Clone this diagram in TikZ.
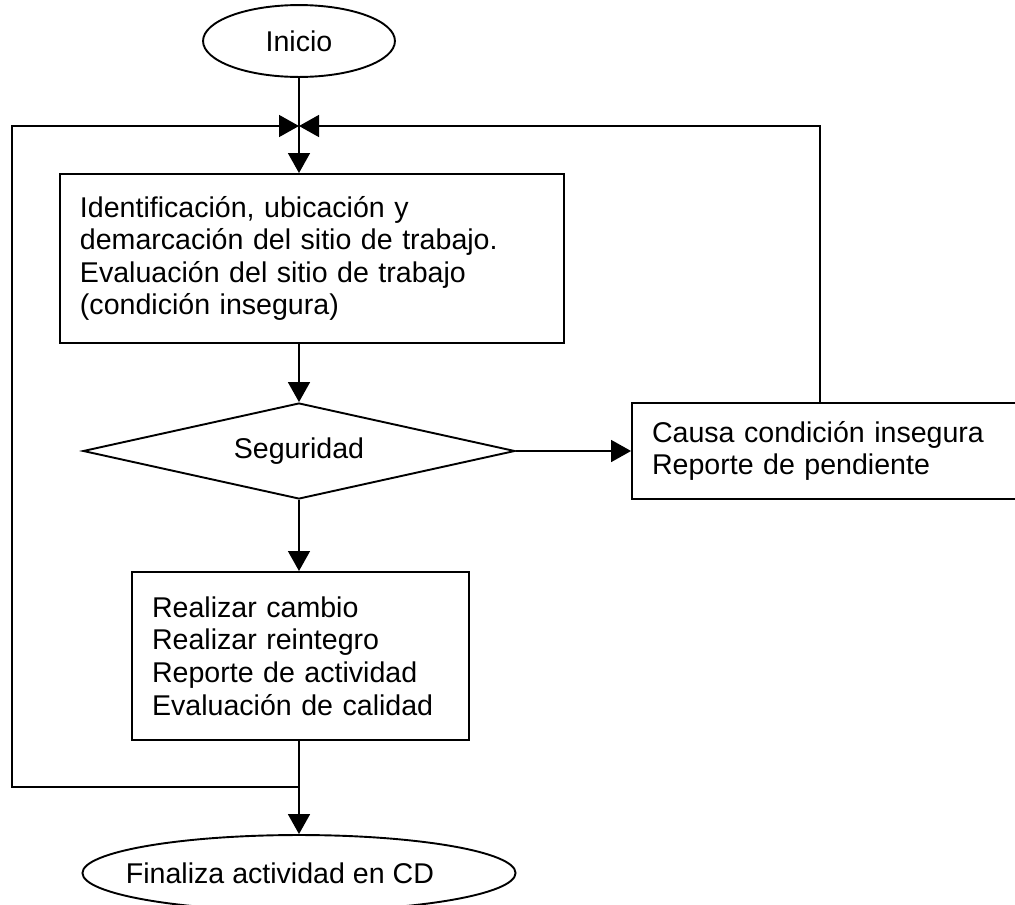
\documentclass[tikz,border=0pt]{standalone}
\usepackage{fontspec}
\setmainfont{Liberation Sans}
\usetikzlibrary{positioning, shapes.geometric, arrows.meta}

\begin{document}
\begin{tikzpicture}[x=0.42pt, y=-0.42pt, line width=0.8pt,
    font=\fontsize{12}{13.7}\selectfont,
    flecha/.style={-{Triangle[length=8.4pt, width=9.2pt]}},
    termbox/.style={draw, ellipse, inner sep=0pt},
    procbox/.style={draw, rectangle, align=left, inner xsep=8.4pt, inner ysep=0pt},
    decbox/.style={draw, diamond, shape aspect=4.5, inner sep=0pt}]
        \useasboundingbox (0,0) rectangle (1015,905);
        \clip (0,0) rectangle (1015,905);

        \node[termbox, minimum width=80.6pt, minimum height=30.2pt] (inicio) at (299,41) {Inicio}; %start
        \node[procbox, text width=194.9pt, minimum height=71pt] (sitio) at (312,258.5)
            {Identificación, ubicación y\\demarcación del sitio de trabajo.\\Evaluación del sitio de trabajo\\(condición insegura)}; %site
        \node[decbox, minimum width=181.4pt, minimum height=40.3pt] (seguridad) at (299,451) {Seguridad}; %decision
        \node[procbox, text width=160pt, minimum height=40.3pt] (causa) at (842.5,451)
            {Causa condición insegura\\Reporte de pendiente}; %unsafe
        \node[procbox, text width=124.7pt, minimum height=70.6pt] (tareas) at (300.5,656)
            {Realizar cambio\\Realizar reintegro\\Reporte de actividad\\Evaluación de calidad}; %tasks
        \node[termbox, minimum width=181.9pt, minimum height=31.9pt,
            label={[xshift=-8pt]center:Finaliza actividad en CD}] (fin) at (299,873) {}; %end

        \coordinate (junta)  at (299,126); %merge
        \coordinate (retder) at (820,126); %right return
        \coordinate (retizq) at (12,126);  %left return
        \coordinate (salida) at (299,787); %exit

        \draw[flecha] (inicio.south) -- (inicio.south |- sitio.north);
        \draw[flecha] (sitio.south -| seguridad.north) -- (seguridad.north);
        \draw[flecha] (seguridad.east) -- (causa.west);
        \draw[flecha] (seguridad.south) -- (seguridad.south |- tareas.north);
        \draw[flecha] (tareas.south -| fin.north) -- (fin.north);
        \draw[flecha] (causa.north -| retder) -- (retder) -- (junta);
        \draw[flecha] (salida) -| (retizq) -- (junta);
      \end{tikzpicture}
\end{document}
